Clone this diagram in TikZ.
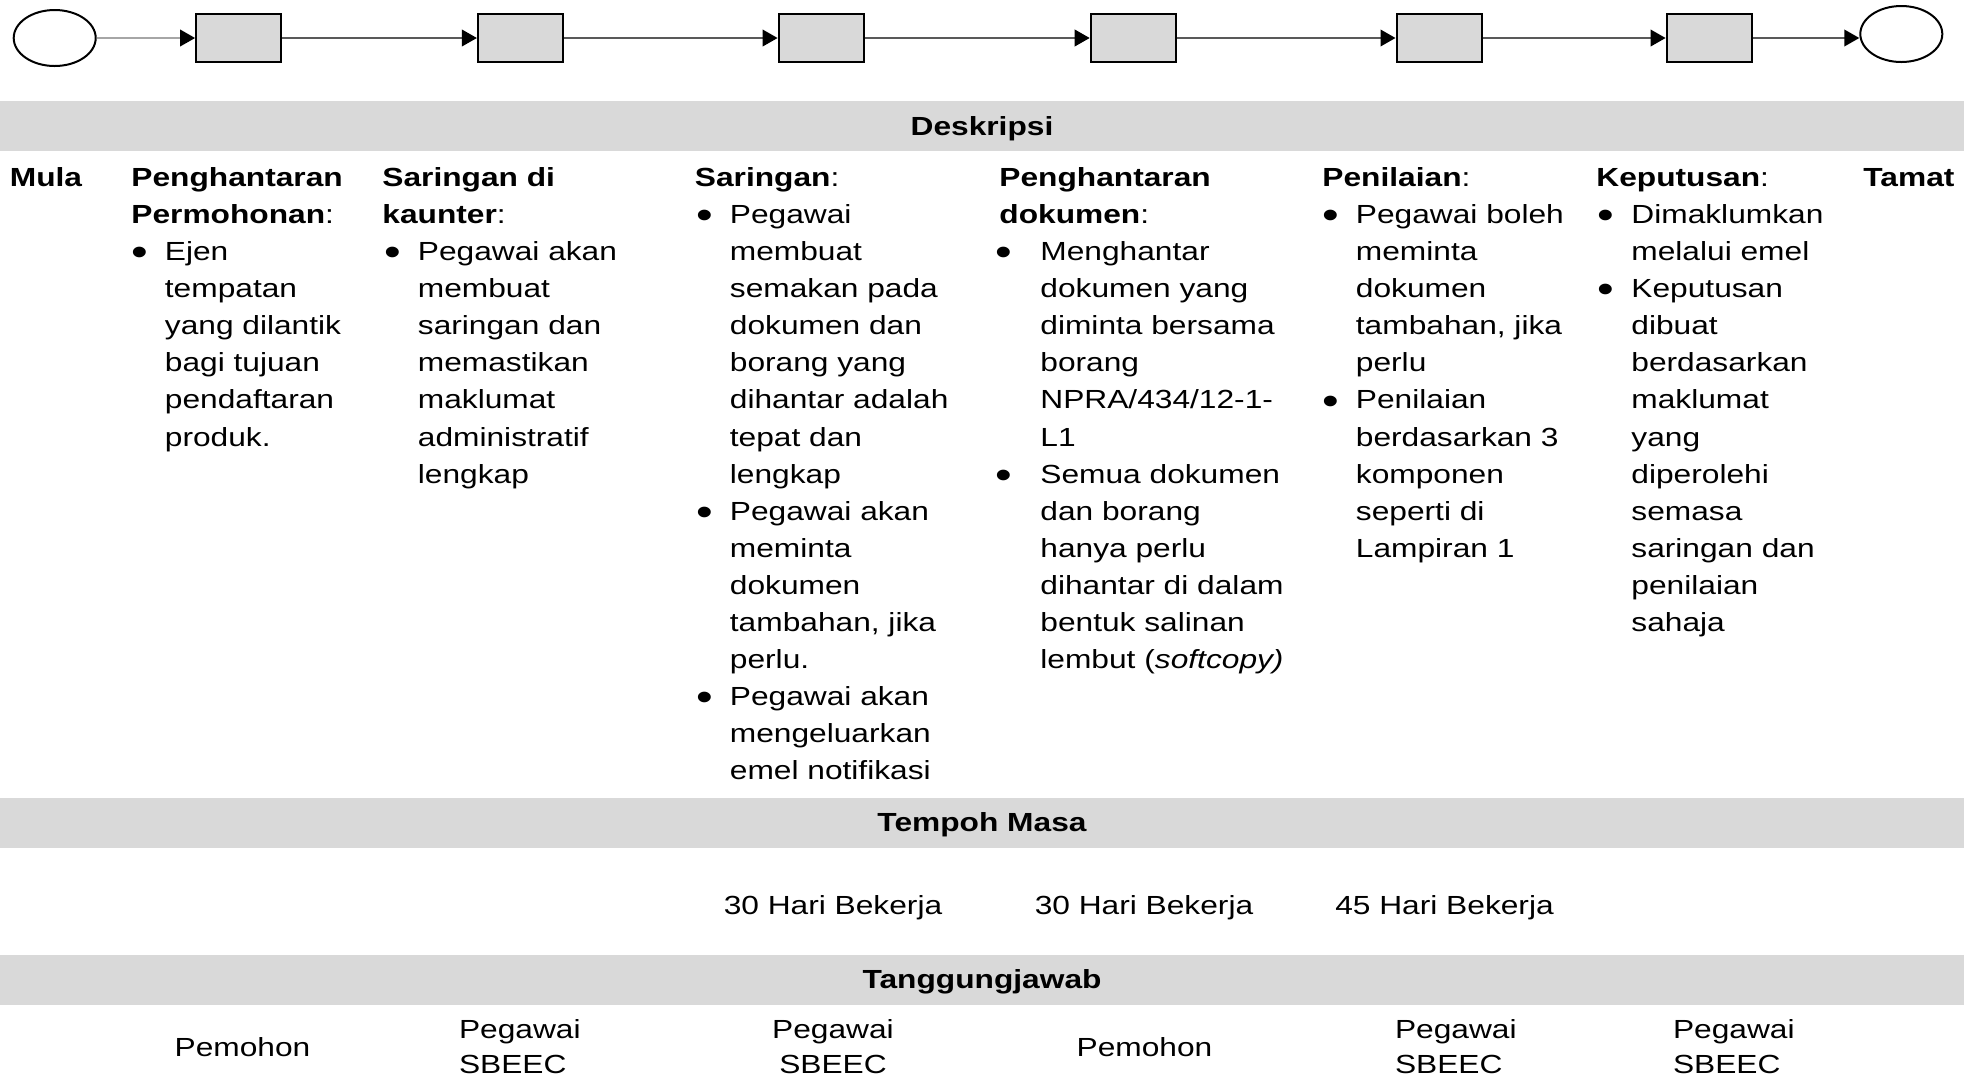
\documentclass[tikz,border=0pt]{standalone}
\usepackage{fontspec}
\setmainfont{Liberation Sans}[FakeStretch=1.21]
\usetikzlibrary{shapes,arrows.meta}

\definecolor{boxgray}{HTML}{D9D9D9}
\definecolor{edgegray}{HTML}{595959}
\definecolor{startgray}{HTML}{A6A6A6}

\newcommand{\desc}{\fontsize{13.1pt}{18.55pt}\selectfont}
\newcommand{\resp}{\fontsize{13.1pt}{17.5pt}\selectfont}
\newcommand{\bul}[1][8.4pt]{\strut\llap{\raisebox{-2.6pt}{\scalebox{1.5}{\textbullet}}\hspace{#1}}}

\tikzstyle{terminal} = [ellipse, draw, line width=1pt, minimum width=41pt, minimum height=28pt, inner sep=0pt]
\tikzstyle{block} = [rectangle, draw, fill=boxgray, line width=1pt, 
    minimum width=42.6pt, minimum height=24.3pt, inner sep=0pt]
\tikzstyle{line} = [draw=edgegray, line width=0.9pt, -{Triangle[length=7.5pt, width=8.3pt, color=black]}]
\tikzstyle{bar} = [rectangle, fill=boxgray, minimum width=982pt, minimum height=25pt, inner sep=0pt,
    text height=9.4pt, text depth=0pt, font=\desc\bfseries]
\tikzstyle{txt} = [anchor=north west, align=left, inner sep=0pt, font=\desc]
\tikzstyle{val} = [anchor=base, inner sep=0pt, font=\desc]
\tikzstyle{who} = [anchor=north west, align=left, inner sep=0pt, font=\resp]

\begin{document}
\begin{tikzpicture}[x=0.5pt, y=-0.5pt]
    \useasboundingbox (0,0) rectangle (1964,1078);
    % Place nodes
    \node [terminal] (mula) at (54.7,38) {};
    \node [block, right of=mula, node distance=92pt] (p1) {};
    \node [block, right of=p1, node distance=140.9pt] (p2) {};
    \node [block, right of=p2, node distance=150.35pt] (p3) {};
    \node [block, right of=p3, node distance=156.05pt] (p4) {};
    \node [block, right of=p4, node distance=152.9pt] (p5) {};
    \node [block, right of=p5, node distance=135.05pt] (p6) {};
    \node [terminal, right of=p6, node distance=96.05pt, yshift=2pt] (tamat) {};
    % Draw edges
    \path [line, draw=startgray] (mula) -- (p1);
    \path [line] (p1) -- (p2);
    \path [line] (p2) -- (p3);
    \path [line] (p3) -- (p4);
    \path [line] (p4) -- (p5);
    \path [line] (p5) -- (p6);
    \path [line] (p6.east) -- (p6.east -| tamat.west);

    % Deskripsi
    \node [bar] (deskripsi) at (982,126.2) {Deskripsi};
    \node [txt] (hmula) at (9.5,160) {\strut\textbf{Mula}};
    \node [txt] (h1) at (131,160) {\strut\textbf{Penghantaran}\\\textbf{Permohonan}:};
    \node [txt] (d1) at (164.5,234.2) {\bul Ejen\\tempatan\\yang dilantik\\bagi tujuan\\pendaftaran\\produk.};
    \node [txt] (h2) at (382,160) {\strut\textbf{Saringan di}\\\textbf{kaunter}:};
    \node [txt] (d2) at (417.5,234.2) {\bul Pegawai akan\\membuat\\saringan dan\\memastikan\\maklumat\\administratif\\lengkap};
    \node [txt] (h3) at (694.5,160) {\strut\textbf{Saringan}:};
    \node [txt] (d3) at (729.5,197.1) {\bul Pegawai\\membuat\\semakan pada\\dokumen dan\\borang yang\\dihantar adalah\\tepat dan\\lengkap\\
        \bul Pegawai akan\\meminta\\dokumen\\tambahan, jika\\perlu.\\
        \bul Pegawai akan\\mengeluarkan\\emel notifikasi};
    \node [txt] (h4) at (999,160) {\strut\textbf{Penghantaran}\\\textbf{dokumen}:};
    \node [txt] (d4) at (1040,234.2) {\bul[14pt]Menghantar\\dokumen yang\\diminta bersama\\borang\\NPRA/434/12-1-\\L1\\
        \bul[14pt]Semua dokumen\\dan borang\\hanya perlu\\dihantar di dalam\\bentuk salinan\\lembut (\textit{softcopy)}};
    \node [txt] (h5) at (1322,160) {\strut\textbf{Penilaian}:};
    \node [txt] (d5) at (1355.5,197.1) {\bul Pegawai boleh\\meminta\\dokumen\\tambahan, jika\\perlu\\
        \bul Penilaian\\berdasarkan 3\\komponen\\seperti di\\Lampiran 1};
    \node [txt] (h6) at (1596,160) {\strut\textbf{Keputusan}:};
    \node [txt] (d6) at (1631,197.1) {\bul Dimaklumkan\\melalui emel\\
        \bul Keputusan\\dibuat\\berdasarkan\\maklumat\\yang\\diperolehi\\semasa\\saringan dan\\penilaian\\sahaja};
    \node [txt] (htamat) at (1863,160) {\strut\textbf{Tamat}};

    % Tempoh Masa
    \node [bar] (tempoh) at (982,822.5) {Tempoh Masa};
    \node [val] (m3) at (833,914) {30 Hari Bekerja};
    \node [val] (m4) at (1144,914) {30 Hari Bekerja};
    \node [val] (m5) at (1444.5,914) {45 Hari Bekerja};

    % Tanggungjawab
    \node [bar] (tanggung) at (982,979.5) {Tanggungjawab};
    \node [val] (r1) at (242.5,1056) {Pemohon};
    \node [who] (r2) at (458.6,1013.2) {\strut Pegawai\\SBEEC};
    \node [who, anchor=north, align=center] (r3) at (833,1013.2) {\strut Pegawai\\SBEEC};
    \node [val] (r4) at (1144.5,1056) {Pemohon};
    \node [who] (r5) at (1394.6,1013.2) {\strut Pegawai\\SBEEC};
    \node [who] (r6) at (1672.6,1013.2) {\strut Pegawai\\SBEEC};
\end{tikzpicture}
\end{document}
